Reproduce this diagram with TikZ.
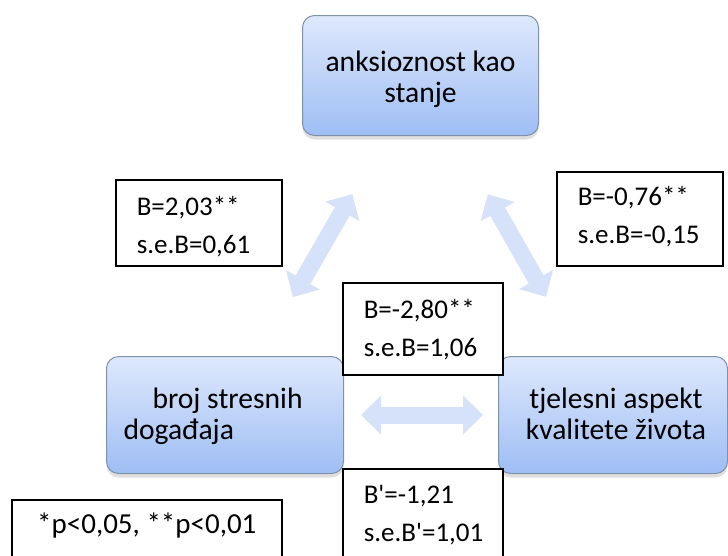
\documentclass[tikz,border=0pt]{standalone}
\usepackage{fontspec}
\setmainfont{Carlito}
\usepackage{xcolor}
\usepackage{tikz}
\usetikzlibrary{arrows.meta, shadows}

\definecolor{boxtop}{RGB}{222,232,252}
\definecolor{boxbot}{RGB}{158,190,244}
\definecolor{boxline}{RGB}{128,145,172}
\definecolor{arrowblue}{RGB}{214,226,250}

\begin{document}
\begin{tikzpicture}[
    x=1pt, y=-1pt,
    box/.style={rectangle, draw=boxline, line width=1pt, rounded corners=12pt, top color=boxtop, bottom color=boxbot, anchor=north west, inner ysep=0pt, font=\fontsize{29.6}{31}\selectfont, drop shadow={opacity=0.25, shadow xshift=0pt, shadow yshift=-4pt}},
    coef/.style={rectangle, draw, line width=1.6pt, fill=white, anchor=north west, align=flush left, inner xsep=21pt, inner ysep=0pt, font=\fontsize{27}{37.5}\selectfont},
    arrow/.style={{Triangle[width=38pt,length=20pt]}-{Triangle[width=38pt,length=20pt]}, line width=17pt, draw=arrowblue}
    ]
\useasboundingbox (0,0) rectangle (728,555);

\node[box, align=center, minimum width=236pt, text height=87pt, text depth=33pt] (anx) at (302,15) {anksioznost kao\\stanje};
\node[box, align=flush left, text width=203pt, inner xsep=17pt, text height=52pt, text depth=65pt] (stres) at (106,356) {\hspace*{29pt}broj stresnih\\događaja};
\node[box, align=center, minimum width=229pt, text height=83pt, text depth=34pt] (tjel) at (498,356) {\hspace*{6pt}tjelesni aspekt\\\hspace*{6pt}kvalitete života};

\draw[arrow, shorten <=67pt, shorten >=68pt] (anx) -- (stres);
\draw[arrow, shorten <=67pt, shorten >=68pt] (anx) -- (tjel);
\draw[arrow, shorten <=17pt, shorten >=15pt] (stres) -- (tjel);

\node[coef, text width=124pt, text height=36pt, text depth=50pt] (cAS) at (115,179) {B=2,03**\\s.e.B=0,61};
\node[coef, text width=124pt, text height=34pt, text depth=60pt] (cAT) at (556,171) {B=-0,76**\\s.e.B=-0,15};
\node[coef, text width=118pt, text height=36pt, text depth=56pt] (cST) at (342,282) {B=-2,80**\\s.e.B=1,06};
\node[coef, text width=118pt, text height=35pt, text depth=70pt] (cSTb) at (342,468) {B\textquotesingle=-1,21\\s.e.B\textquotesingle=1,01};
\node[coef, align=center, minimum width=270pt, inner xsep=0pt, text height=34pt, text depth=40pt, font=\fontsize{29}{31}\selectfont] (sig) at (11,499) {*p<0,05, **p<0,01};
\end{tikzpicture}
\end{document}
